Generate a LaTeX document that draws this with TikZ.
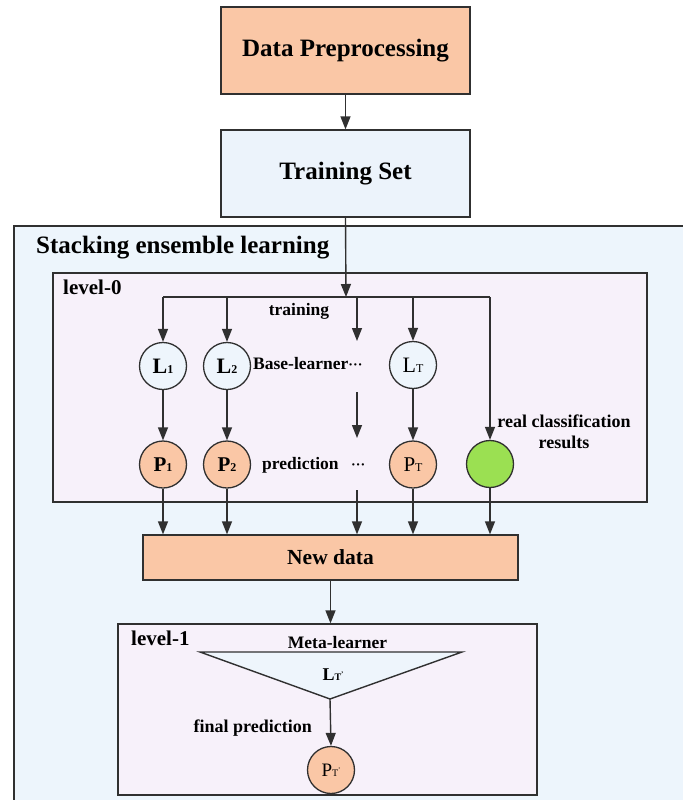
\documentclass[tikz,border=0pt]{standalone}
\usepackage{fontspec}
\setmainfont{Liberation Serif}
\usetikzlibrary{arrows.meta}
\definecolor{peach}{RGB}{250,199,166}
\definecolor{tsblue}{RGB}{236,243,251}
\definecolor{outerblue}{RGB}{237,245,252}
\definecolor{lvpink}{RGB}{247,241,250}
\definecolor{lblue}{RGB}{238,245,252}
\definecolor{lgreen}{RGB}{155,224,82}
\definecolor{edgec}{RGB}{48,48,48}
\newcommand{\fs}[1]{\fontsize{#1}{#1}\selectfont}
\begin{document}
\begin{tikzpicture}[x=1pt,y=-1pt,
  box/.style={draw=edgec,line width=1.3pt,inner sep=0pt,font=\bfseries\fs{25}},
  circ/.style={circle,draw=edgec,line width=1.3pt,minimum size=47pt,inner sep=0pt},
  arr/.style={draw=edgec,line width=1.4pt,-{Triangle[length=13pt,width=10pt]}},
  ln/.style={draw=edgec,line width=1.4pt},
  lbl/.style={inner sep=0pt,font=\bfseries\fs{17.5}},
  title/.style={inner sep=0pt,font=\bfseries\fs{21}},
]
\useasboundingbox (0,0) rectangle (683,800);
\fill[white] (0,0) rectangle (683,800);
% outer stacking region
\fill[outerblue] (14,226) rectangle (683,800);
\draw[ln] (14,800) -- (14,226) -- (683,226);
% top boxes
\node[box,fill=peach,minimum width=249pt,minimum height=87pt] (dp) at (345.5,50.5) {Data Preprocessing};
\node[box,fill=tsblue,minimum width=249pt,minimum height=87pt] (ts) at (345.5,173.5) {Training Set};
\draw[arr] (dp.south) -- (ts.north);
\node[inner sep=0pt,anchor=base west,font=\bfseries\fs{25}] (stk) at (36,253) {Stacking ensemble learning};
% level-0
\node[draw=edgec,line width=1.3pt,fill=lvpink,minimum width=594pt,minimum height=229pt,inner sep=0pt] (lv0) at (350,387.5) {};
\node[title,anchor=base west] (lv0t) at (63,294) {level-0};
% circles
\node[circ,fill=lblue] (L1) at (163,366) {\bfseries\fs{22}L\fs{12}1};
\node[circ,fill=lblue] (L2) at (227,366) {\bfseries\fs{22}L\fs{12}2};
\node[circ,fill=lblue] (LT) at (413,365) {\fs{22}L\fs{12}T};
\node[circ,fill=peach] (P1) at (163,464.5) {\bfseries\fs{21}P\fs{12}1};
\node[circ,fill=peach] (P2) at (227,464.5) {\bfseries\fs{21}P\fs{12}2};
\node[circ,fill=peach] (PT) at (413,464.5) {\fs{21}P\fs{12}T};
\node[circ,fill=lgreen] (G) at (490,464) {};
% bus
\coordinate (busL) at (163,297);
\coordinate (busR) at (490,297);
\coordinate (busT) at (346,297);
\draw[arr] (ts.south) -- (busT);
\draw[ln] (busL) -- (busR);
\draw[arr] (busL) -- (L1.north);
\draw[arr] (L2 |- busL) -- (L2.north);
\draw[arr] (LT |- busL) -- (LT.north);
\draw[arr] (busR) -- (G.north);
\coordinate (m1) at (357,297);
\coordinate (m2) at (357,341);
\coordinate (m3) at (357,392);
\coordinate (m4) at (357,438);
\coordinate (m5) at (357,490);
\draw[arr] (m1) -- (m2);
\draw[arr] (m3) -- (m4);
\draw[arr] (L1) -- (P1);
\draw[arr] (L2) -- (P2);
\draw[arr] (LT) -- (PT);
% labels
\node[lbl,anchor=base] (trn) at (299,315) {training};
\node[lbl,anchor=base west] (bl) at (253,369) {Base-learner{\fs{14}···}};
\node[lbl,anchor=base west] (pr) at (262,469) {prediction};
\node[lbl,anchor=base west] (prd) at (351,469) {{\fs{14}···}};
\node[lbl,anchor=base,font=\bfseries\fs{18}] (rc1) at (564,427) {real classification};
\node[lbl,anchor=base,font=\bfseries\fs{18}] (rc2) at (564,448) {results};
% new data
\node[box,fill=peach,minimum width=375pt,minimum height=45pt,font=\bfseries\fs{21.5}] (nd) at (330.5,557.5) {New data};
\draw[arr] (P1) -- (P1 |- nd.north);
\draw[arr] (P2) -- (P2 |- nd.north);
\draw[arr] (m5) -- (m5 |- nd.north);
\draw[arr] (PT) -- (PT |- nd.north);
\draw[arr] (G) -- (G |- nd.north);
% level-1
\node[draw=edgec,line width=1.3pt,fill=lvpink,minimum width=419pt,minimum height=171pt,inner sep=0pt] (lv1) at (327.5,709.5) {};
\draw[arr] (nd.south) -- (nd.south |- lv1.north);
\node[title,anchor=base west] (lv1t) at (131,645) {level-1};
\node[lbl,anchor=base] (meta) at (337.5,648) {Meta-learner};
\coordinate (apex) at (330,699);
\draw[ln,fill=lblue,line join=miter] (200,652) -- (462,652) -- (apex) -- cycle;
\node[inner sep=0pt,anchor=base] (LTp) at (333,680) {\bfseries\fs{18}L\fs{10}T\raisebox{4pt}{\fs{7}'}};
\node[circ,fill=peach] (PTp) at (331,770) {\fs{19}P\fs{10}T\raisebox{4pt}{\fs{7}'}};
\draw[arr] (apex) -- (PTp.north);
\node[lbl,anchor=base east,font=\bfseries\fs{18}] (fp) at (312,732) {final prediction};
\end{tikzpicture}
\end{document}
